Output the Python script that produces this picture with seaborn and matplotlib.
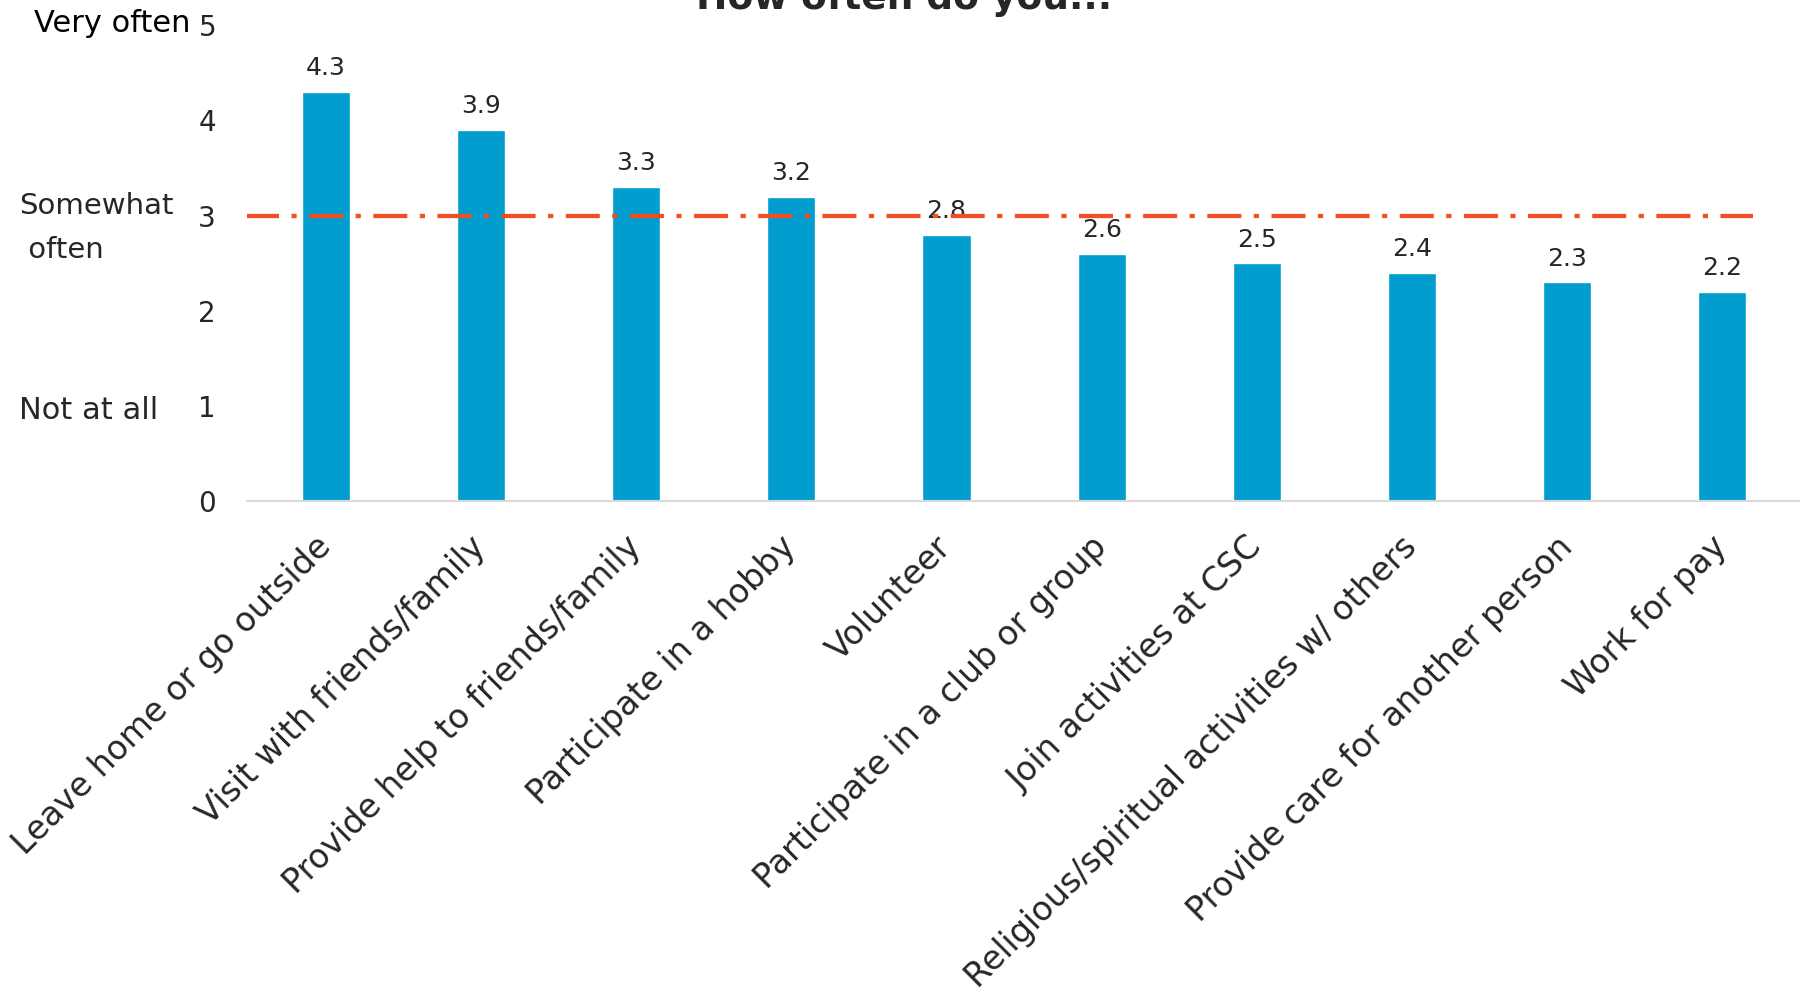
import matplotlib
matplotlib.use("Agg")
import matplotlib.pyplot as plt
import matplotlib.transforms as mtransforms
import seaborn as sns
import pandas as pd

# Survey activities and their mean frequency ratings (0-5 scale)
activities = [
    "Leave home or go outside",
    "Visit with friends/family",
    "Provide help to friends/family",
    "Participate in a hobby",
    "Volunteer",
    "Participate in a club or group",
    "Join activities at CSC",
    "Religious/spiritual activities w/ others",
    "Provide care for another person",
    "Work for pay",
]
mean_scores = [4.3, 3.9, 3.3, 3.2, 2.8, 2.6, 2.5, 2.4, 2.3, 2.2]
y_ticks = [0, 1, 2, 3, 4, 5]
scale_labels = ["Very often", "Somewhat\n often", "Not at all"]
scale_positions = [5.02, 2.87, 0.95]
reference_level = 3

BAR = "#009DCE"
REF = "#F04E23"
TEXT = "#262626"

sns.set_theme(style="white")
plt.rcParams["font.family"] = ["DejaVu Sans"]

df = pd.DataFrame({"activity": activities, "score": mean_scores})

fig = plt.figure(figsize=(18, 9.99), dpi=100)
ax = fig.add_axes([0.137, 0.498, 0.863, 0.477])

sns.barplot(data=df, x="activity", y="score", color=BAR, width=0.31,
            saturation=1, ax=ax)

ax.set_xlim(-0.51, 9.5)
ax.set_ylim(0, 5)
ax.set_yticks(y_ticks)
ax.set_xlabel("")
ax.set_ylabel("")

for s in ["top", "right", "left"]:
    ax.spines[s].set_visible(False)
ax.spines["bottom"].set_color("#D9D9D9")
ax.spines["bottom"].set_linewidth(1.5)

ax.tick_params(axis="y", length=0, pad=22, labelsize=20, labelcolor=TEXT)
ax.tick_params(axis="x", length=0, pad=29, labelsize=24, labelcolor=TEXT)
for lbl in ax.get_xticklabels():
    lbl.set_rotation(45)
    lbl.set_ha("right")
    lbl.set_va("center")
    lbl.set_rotation_mode("anchor")

# value labels above bars
for i, v in enumerate(mean_scores):
    ax.annotate(f"{v:.1f}", xy=(i, v), xytext=(0, 12), textcoords="offset points",
                ha="center", va="baseline", fontsize=18, color=TEXT)

# "somewhat often" reference line
ax.hlines(reference_level, -0.52, 9.2, colors=REF, linewidth=3.1,
          linestyles=(0, (7.9, 2.9, 1.2, 2.9)), zorder=3)

# verbal anchors of the rating scale
trans = mtransforms.blended_transform_factory(fig.transFigure, ax.transData)
ax.text(190 / 1800, scale_positions[0], scale_labels[0], transform=trans,
        ha="right", va="center", fontsize=22, color="black")
ax.text(19 / 1800, scale_positions[1], scale_labels[1], transform=trans,
        ha="left", va="center", fontsize=21, color=TEXT, linespacing=1.75)
ax.text(19 / 1800, scale_positions[2], scale_labels[2], transform=trans,
        ha="left", va="center", fontsize=22, color=TEXT)

fig.text(0.502, 1 - 9 / 999, "How often do you...", ha="center",
         va="baseline", fontsize=27, fontweight="bold", color=TEXT)

fig.savefig("out.png", dpi=100)
